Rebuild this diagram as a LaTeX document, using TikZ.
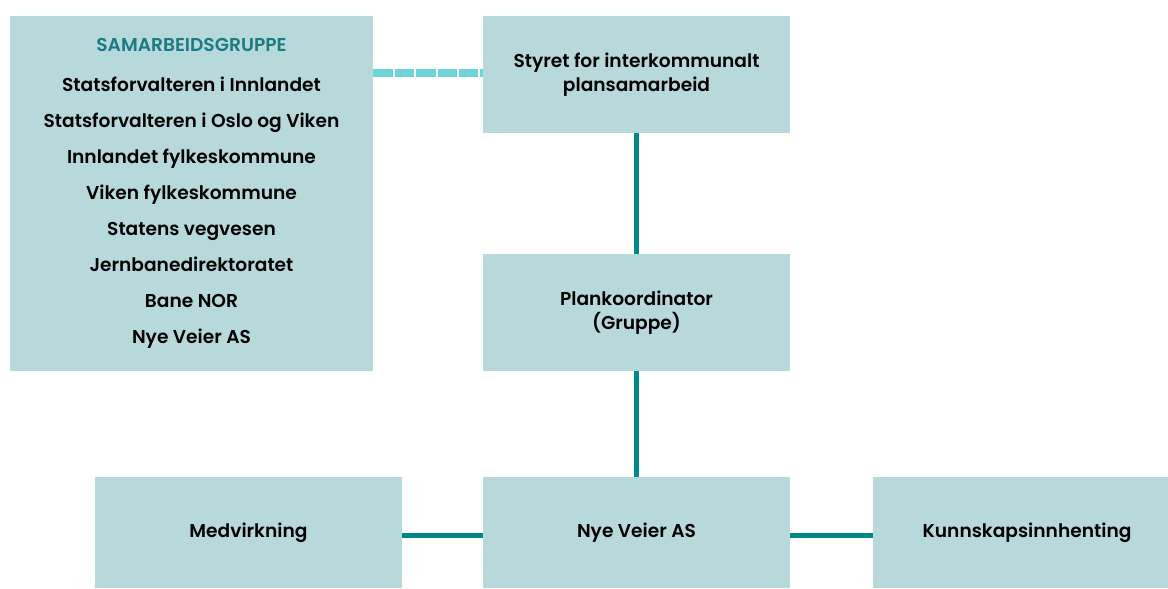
\documentclass[tikz,border=0pt]{standalone}
\usepackage{fontspec}
\setmainfont{Poppins}[BoldFont={Poppins SemiBold}]
\definecolor{boksfyll}{HTML}{B8D9DC}
\definecolor{linjeteal}{HTML}{00878C}
\definecolor{stiplet}{HTML}{6CD4DB}
\definecolor{tittelteal}{HTML}{1A7B80}
\tikzset{boks/.style={fill=boksfyll, inner sep=0pt, align=center, font=\bfseries\fontsize{10.6}{13.6}\selectfont}}
\tikzset{kobling/.style={draw=linjeteal, line width=2.8pt}}
\tikzset{samkobling/.style={draw=stiplet, line width=4pt, dash pattern=on 11pt off 1.2pt}}

\begin{document}
\begin{tikzpicture}[x=0.02cm, y=-0.02cm]
            \useasboundingbox (0, 0) rectangle (1168, 588);
            \node[boks, minimum width=7.26cm, minimum height=7.1cm, font=\bfseries\fontsize{10.6}{20.5}\selectfont] (samarbeid) at (191.5, 193.5)
                {\textcolor{tittelteal}{SAMARBEIDSGRUPPE}\\[2.3pt] Statsforvalteren i Innlandet\\ Statsforvalteren i Oslo og Viken\\ Innlandet fylkeskommune\\ Viken fylkeskommune\\ Statens vegvesen\\ Jernbanedirektoratet\\ Bane NOR\\ Nye Veier AS};
            \node[boks, minimum width=6.14cm, minimum height=2.34cm] (styret) at (636.5, 74.5) {Styret for interkommunalt\\ plansamarbeid};
            \node[boks, minimum width=6.14cm, minimum height=2.34cm] (plankoord) at (636.5, 312.5) {Plankoordinator\\ (Gruppe)};
            \node[boks, minimum width=6.14cm, minimum height=2.22cm] (nyeveier) at (636.5, 532.5) {Nye Veier AS};
            \node[boks, minimum width=6.14cm, minimum height=2.22cm] (medvirkning) at (248.5, 532.5) {Medvirkning};
            \node[boks, minimum width=6.16cm, minimum height=2.22cm] (kunnskap) at (1027, 532.5) {Kunnskapsinnhenting};
            \draw[samkobling] (samarbeid.east |- 0, 73) -- (styret.west |- 0, 73);
            \draw[kobling] (styret) -- (plankoord);
            \draw[kobling] (plankoord) -- (nyeveier);
            \draw[kobling] ([yshift=-1.5pt]medvirkning.east) -- ([yshift=-1.5pt]nyeveier.west);
            \draw[kobling] ([yshift=-1.5pt]nyeveier.east) -- ([yshift=-1.5pt]kunnskap.west);
        \end{tikzpicture}
\end{document}
